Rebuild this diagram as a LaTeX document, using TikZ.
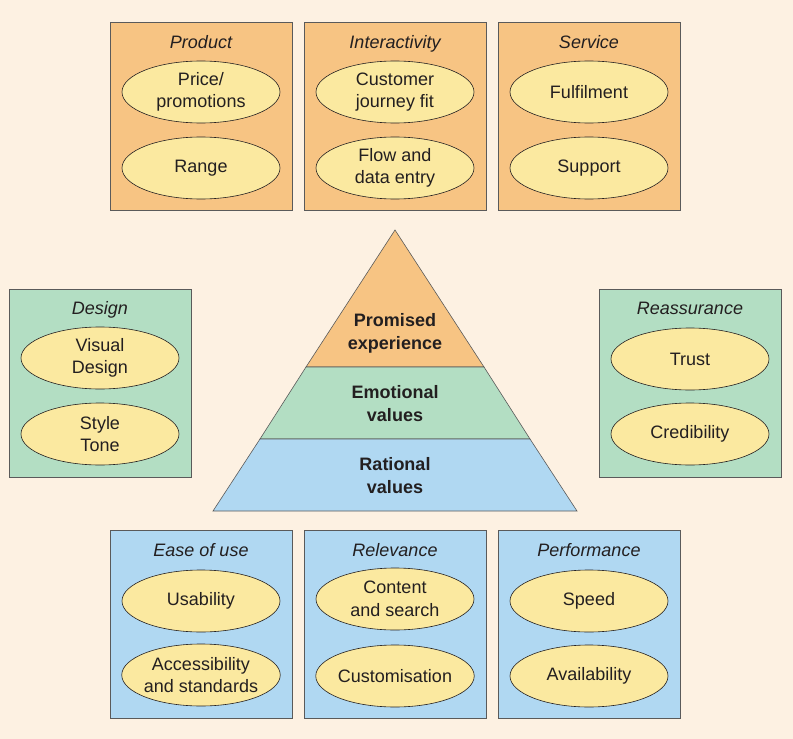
\documentclass[tikz,border=0pt]{standalone}
\usepackage{fontspec}
\setmainfont{Liberation Sans}
\usetikzlibrary{shapes.geometric}
\definecolor{paper}{HTML}{FDF1E2}
\definecolor{boxorange}{HTML}{F7C483}
\definecolor{boxgreen}{HTML}{B3DEC3}
\definecolor{boxblue}{HTML}{B0D8F2}
\definecolor{ovalyellow}{HTML}{FBE9A0}
\definecolor{edgegray}{HTML}{5A5A5A}
\definecolor{inkdark}{HTML}{231F20}
\begin{document}
\begin{tikzpicture}[x=1pt,y=-1pt]
    \tikzset{panel/.style={draw=edgegray,line width=0.8pt,minimum width=182pt,minimum height=188pt,inner sep=0pt},
             oval/.style={ellipse,draw=inkdark,line width=0.6pt,fill=ovalyellow,minimum width=158pt,minimum height=62pt,
                          inner sep=-1pt,align=center,text=inkdark,font=\fontsize{18}{22.5}\selectfont},
             heading/.style={text=inkdark,text height=13pt,text depth=4pt,font=\fontsize{18}{22}\selectfont\itshape},
             tier/.style={align=center,text=inkdark,font=\fontsize{18}{23}\selectfont\bfseries}};
    \fill[paper] (0,0) rectangle (793,739);
    \useasboundingbox (0,0) rectangle (793,739);
    % top row
    \node[panel,fill=boxorange] (product) at (201,116) {};
    \node[heading] (producthead) at (201,44) {Product};
    \node[oval] (price) at (201,92) {Price/\\promotions};
    \node[oval] (range) at (201,168) {Range};
    \node[panel,fill=boxorange] (interactivity) at (395,116) {};
    \node[heading] (interactivityhead) at (395,44) {Interactivity};
    \node[oval] (journey) at (395,92) {Customer\\journey fit};
    \node[oval] (flow) at (395,168) {Flow and\\data entry};
    \node[panel,fill=boxorange] (service) at (589,116) {};
    \node[heading] (servicehead) at (589,44) {Service};
    \node[oval] (fulfilment) at (589,92) {Fulfilment};
    \node[oval] (support) at (589,168) {Support};
    % sides
    \node[panel,fill=boxgreen] (design) at (100,383) {};
    \node[heading] (designhead) at (100,310) {Design};
    \node[oval] (visual) at (100,358) {Visual\\Design};
    \node[oval] (style) at (100,434) {Style\\Tone};
    \node[panel,fill=boxgreen] (reassurance) at (690,383) {};
    \node[heading] (reassurancehead) at (690,310) {Reassurance};
    \node[oval] (trust) at (690,359) {Trust};
    \node[oval] (credibility) at (690,434) {Credibility};
    % pyramid
    \filldraw[fill=boxorange,draw=edgegray,line width=0.6pt] (395,230) -- (484,367) -- (306,367) -- cycle;
    \filldraw[fill=boxgreen,draw=edgegray,line width=0.6pt] (306,367) -- (484,367) -- (530,439) -- (260,439) -- cycle;
    \filldraw[fill=boxblue,draw=edgegray,line width=0.6pt] (260,439) -- (530,439) -- (577,511) -- (213,511) -- cycle;
    \node[tier] (promised) at (395,333) {Promised\\experience};
    \node[tier] (emotional) at (395,404) {Emotional\\values};
    \node[tier] (rational) at (395,476) {Rational\\values};
    % bottom row
    \node[panel,fill=boxblue] (ease) at (201,624) {};
    \node[heading] (easehead) at (201,552) {Ease of use};
    \node[oval] (usability) at (201,601) {Usability};
    \node[oval] (access) at (201,675) {Accessibility\\and standards};
    \node[panel,fill=boxblue] (relevance) at (395,624) {};
    \node[heading] (relevancehead) at (395,552) {Relevance};
    \node[oval] (content) at (395,599) {Content\\and search};
    \node[oval] (custom) at (395,676) {Customisation};
    \node[panel,fill=boxblue] (performance) at (589,624) {};
    \node[heading] (performancehead) at (589,552) {Performance};
    \node[oval] (speed) at (589,601) {Speed};
    \node[oval] (avail) at (589,676) {Availability};
\end{tikzpicture}
\end{document}
